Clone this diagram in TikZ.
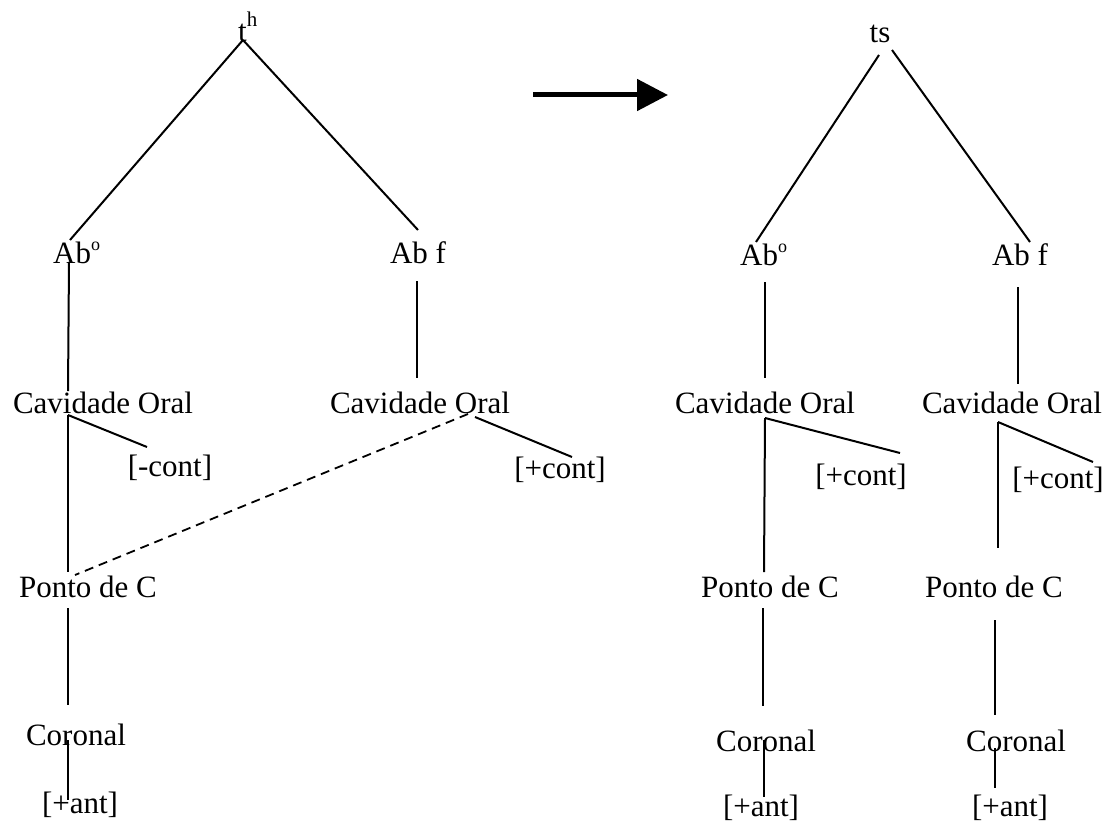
\documentclass[tikz,border=0pt]{standalone}
\usepackage{fontspec}
\setmainfont{Liberation Serif}
\usetikzlibrary{arrows.meta}
\newcommand{\supo}{\raisebox{13pt}{\fontsize{18}{18}\selectfont o}}
\begin{document}
\begin{tikzpicture}[x=1pt,y=-1pt,
  lbl/.style={inner sep=0pt, font=\fontsize{31}{37}\selectfont},
  edge/.style={line width=2pt},
  dashline/.style={line width=1.8pt, dash pattern=on 9pt off 6pt}]
\useasboundingbox (0,0) rectangle (1107,824);
% ---------- left tree ----------
\node[lbl, anchor=base west] (th) at (238,42) {t\raisebox{15pt}{\fontsize{21}{21}\selectfont h}};
\node[lbl, anchor=base west] (abo1) at (53,263) {Ab\supo};
\node[lbl, anchor=base] (abf1) at (418,263) {Ab f};
\node[lbl, anchor=base] (co1) at (103,413) {Cavidade Oral};
\node[lbl, anchor=base] (co2) at (420,413) {Cavidade Oral};
\node[lbl, anchor=base] (mc1) at (170,476) {[-cont]};
\node[lbl, anchor=base] (pc2) at (560,478) {[+cont]};
\node[lbl, anchor=base] (pdc1) at (88,597) {Ponto de C};
\node[lbl, anchor=base] (cor1) at (76,745) {Coronal};
\node[lbl, anchor=base] (ant1) at (80,813) {[+ant]};
% coordinates
\coordinate (thA) at (243,40);
\coordinate (abo1T) at (70,240);
\coordinate (abf1T) at (418,230);
\coordinate (abo1B) at (69,262);
\coordinate (co1T) at (68,391);
\coordinate (co1B) at (68,415);
\coordinate (mc1T) at (147,447);
\coordinate (pdc1T) at (68,572);
\coordinate (pdc1B) at (68,608);
\coordinate (cor1T) at (68,705);
\coordinate (cor1B) at (68,740);
\coordinate (ant1T) at (68,800);
\coordinate (abf1B) at (417,281);
\coordinate (co2T) at (417,378);
\coordinate (co2D) at (468,414);
\coordinate (pdc1D) at (75,575);
\coordinate (co2B) at (475,417);
\coordinate (pc2T) at (572,457);
\draw[edge] (thA) -- (abo1T);
\draw[edge] (thA) -- (abf1T);
\draw[edge] (abo1B) -- (co1T);
\draw[edge] (co1B) -- (pdc1T);
\draw[edge] (co1B) -- (mc1T);
\draw[edge] (pdc1B) -- (cor1T);
\draw[edge] (cor1B) -- (ant1T);
\draw[edge] (abf1B) -- (co2T);
\draw[dashline] (co2D) -- (pdc1D);
\draw[edge] (co2B) -- (pc2T);
% ---------- arrow ----------
\coordinate (arrS) at (533,95);
\coordinate (arrE) at (668,95);
\draw[line width=5pt, -{Triangle[length=31pt,width=31pt]}] (arrS) -- (arrE);
% ---------- right tree ----------
\node[lbl, anchor=base] (ts) at (880,43) {ts};
\node[lbl, anchor=base west] (abo2) at (740,265) {Ab\supo};
\node[lbl, anchor=base] (abf2) at (1020,265) {Ab f};
\node[lbl, anchor=base] (co3) at (765,413) {Cavidade Oral};
\node[lbl, anchor=base] (co4) at (1012,413) {Cavidade Oral};
\node[lbl, anchor=base] (pc3) at (861,485) {[+cont]};
\node[lbl, anchor=base] (pc4) at (1058,488) {[+cont]};
\node[lbl, anchor=base] (pdc3) at (770,597) {Ponto de C};
\node[lbl, anchor=base] (pdc4) at (994,597) {Ponto de C};
\node[lbl, anchor=base] (cor3) at (766,751) {Coronal};
\node[lbl, anchor=base] (cor4) at (1016,751) {Coronal};
\node[lbl, anchor=base] (ant3) at (761,816) {[+ant]};
\node[lbl, anchor=base] (ant4) at (1010,816) {[+ant]};
\coordinate (tsL) at (879,55);
\coordinate (tsR) at (892,50);
\coordinate (abo2T) at (756,242);
\coordinate (abf2T) at (1030,242);
\coordinate (abo2B) at (765,282);
\coordinate (co3T) at (765,378);
\coordinate (co3B) at (765,418);
\coordinate (pc3T) at (900,453);
\coordinate (pdc3T) at (764,572);
\coordinate (pdc3B) at (763,608);
\coordinate (cor3T) at (763,706);
\coordinate (cor3B) at (764,740);
\coordinate (ant3T) at (764,797);
\coordinate (abf2B) at (1018,287);
\coordinate (co4T) at (1018,384);
\coordinate (co4B) at (998,422);
\coordinate (pc4T) at (1093,462);
\coordinate (pdc4T) at (998,548);
\coordinate (pdc4B) at (995,620);
\coordinate (cor4T) at (995,715);
\coordinate (cor4B) at (995,748);
\coordinate (ant4T) at (995,788);
\draw[edge] (tsL) -- (abo2T);
\draw[edge] (tsR) -- (abf2T);
\draw[edge] (abo2B) -- (co3T);
\draw[edge] (co3B) -- (pdc3T);
\draw[edge] (co3B) -- (pc3T);
\draw[edge] (pdc3B) -- (cor3T);
\draw[edge] (cor3B) -- (ant3T);
\draw[edge] (abf2B) -- (co4T);
\draw[edge] (co4B) -- (pdc4T);
\draw[edge] (co4B) -- (pc4T);
\draw[edge] (pdc4B) -- (cor4T);
\draw[edge] (cor4B) -- (ant4T);
\end{tikzpicture}
\end{document}
